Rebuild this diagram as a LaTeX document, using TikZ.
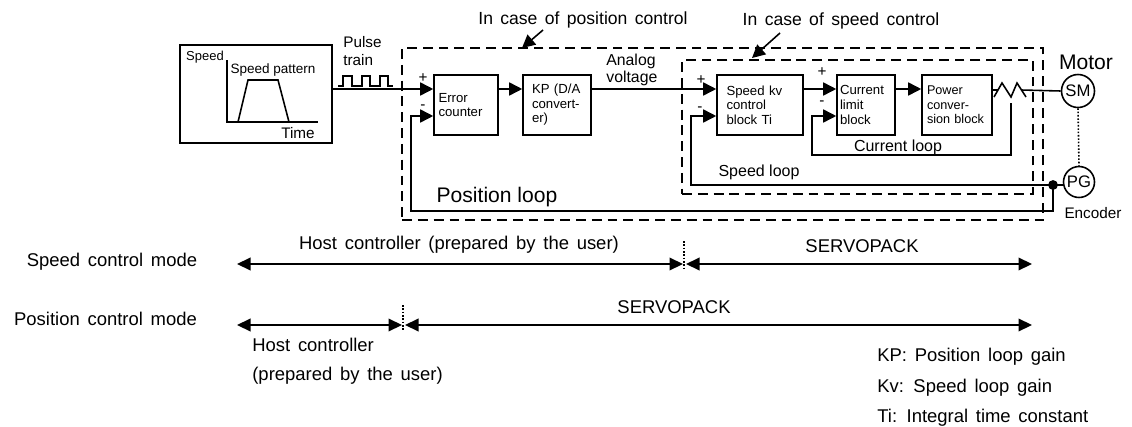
\documentclass[tikz,border=0pt]{standalone}
\usepackage{fontspec}
\setmainfont{Liberation Sans}
\usetikzlibrary{arrows.meta,calc}
\tikzset{
  flowarrow/.style={-{Triangle[length=2.6mm,width=2.6mm]}, line width=0.9pt},
  spanarrow/.style={{Triangle[length=2.7mm,width=2.5mm]}-{Triangle[length=2.7mm,width=2.5mm]}, line width=1.2pt},
  blockbox/.style={draw, line width=0.9pt, inner sep=0pt, align=left},
  framebox/.style={draw, line width=0.9pt, dash pattern=on 5.6pt off 3.4pt, inner sep=0pt},
  wire/.style={line width=0.9pt},
  motornode/.style={draw, circle, line width=0.9pt, inner sep=0pt, minimum size=0.66cm, font=\fontsize{9.5}{10}\selectfont},
  lab/.style={font=\fontsize{8.7}{10.2}\selectfont, inner sep=0pt},
  widelab/.style={font=\fontsize{10.5}{12}\selectfont, inner sep=0pt, execute at begin node={\spaceskip=0.42em\relax}},
  smalllab/.style={font=\fontsize{7.5}{8.3}\selectfont, inner sep=0pt, align=left},
  biglab/.style={font=\fontsize{12}{13}\selectfont, inner sep=0pt}
}
\begin{document}
\begin{tikzpicture}[x=0.02cm, y=-0.02cm]
  \useasboundingbox (0,0) rectangle (1132,426);
  % frames
  \node[framebox, minimum width=12.82cm, minimum height=3.44cm] (outer) at (722.5,134) {};
  \node[framebox, minimum width=7.02cm, minimum height=2.68cm] (inner) at (857.5,127) {};
  % pattern box
  \node[draw, line width=0.9pt, minimum width=3.04cm, minimum height=1.96cm, inner sep=0pt] (pattern) at (256,94) {};
  \draw[wire] (227,60) -- (227,122) -- (318,122);
  \draw[wire] (238,122) -- (248,80) -- (278,80) -- (289,122);
  \node[lab, font=\fontsize{7.4}{8}\selectfont] (speedlab) at (205,57) {Speed};
  \node[lab, font=\fontsize{7.7}{8}\selectfont] (patternlab) at (273,70) {Speed pattern};
  \node[lab] (timelab) at (298,133) {Time};
  \node[lab, align=left, anchor=north west] (pulselab) at (343,36) {Pulse\\train};
  \draw[wire] (338,86) -- (343,86) -- (343,76) -- (352,76) -- (352,86) -- (362,86) -- (362,76) -- (370,76) -- (370,86) -- (380,86) -- (380,76) -- (388,76) -- (388,86) -- (393,86);
  % blocks
  \node[blockbox, minimum width=1.28cm, minimum height=1.2cm, text width=1.1cm, smalllab] (error) at (466,105) {Error\\counter};
  \node[blockbox, minimum width=1.36cm, minimum height=1.2cm, text width=1.0cm, smalllab] (kp) at (557,105) {KP (D/A\\convert-\\er)};
  \node[blockbox, minimum width=1.72cm, minimum height=1.2cm, text width=1.34cm, smalllab] (speedblock) at (760,105) {Speed kv\\control\\block Ti};
  \node[blockbox, minimum width=1.16cm, minimum height=1.2cm, text width=1.04cm, smalllab] (current) at (866,105) {Current\\limit\\block};
  \node[blockbox, minimum width=1.4cm, minimum height=1.2cm, text width=1.2cm, smalllab, font=\fontsize{7.2}{8.3}\selectfont] (power) at (957,105) {Power\\conver-\\sion block\\[2pt]};
  \node[motornode] (sm) at (1078,91) {SM};
  \node[motornode, minimum size=0.62cm] (pg) at (1079,182) {PG};
  \fill (1053,185) circle (2.8pt) coordinate (junction);
  % arrows
  \draw[flowarrow] (pattern.east |- 0,89) -- (error.west |- 0,89);
  \draw[flowarrow] (error.east |- 0,89) -- (kp.west |- 0,89);
  \draw[flowarrow] (kp.east |- 0,89) -- (speedblock.west |- 0,89);
  \draw[flowarrow] (speedblock.east |- 0,89) -- (current.west |- 0,89);
  \draw[flowarrow] (current.east |- 0,89) -- (power.west |- 0,89);
  \draw[wire] (power.east |- 0,90) -- (998,90);
  \draw[wire] (994,97) -- (1002,83) -- (1011,97) -- (1017,83) -- (1026,97);
  \draw[wire] (1021,90) -- (sm.west);
  \draw[flowarrow] (1011,103) -- (1011,155) -- (812,155) -- (812,116) -- (current.west |- 0,116);
  \draw[flowarrow] (pg.west |- 0,185) -- (691,185) -- (691,116) -- (speedblock.west |- 0,116);
  \draw[flowarrow] (junction) -- (1053,211) -- (411,211) -- (411,116) -- (error.west |- 0,116);
  \draw[wire, densely dotted] (sm.south) -- (pg.north);
  % callouts
  \node[widelab, font=\fontsize{10}{12}\selectfont] (poslab) at (583,20) {In case of position control};
  \node[widelab, font=\fontsize{10}{12}\selectfont] (speedctl) at (841,21) {In case of speed control};
  \draw[flowarrow] (543,30) -- (522,48);
  \draw[flowarrow] (780,33) -- (752,58);
  % loop labels
  \node[biglab] (posloop) at (497,197) {Position loop};
  \node[lab, font=\fontsize{9.1}{10}\selectfont] (curloop) at (898,147) {Current loop};
  \node[lab, font=\fontsize{9.1}{10}\selectfont] (spdloop) at (759,172) {Speed loop};
  \node[lab, anchor=west, align=left, font=\fontsize{9}{9.8}\selectfont] (analog) at (606,70) {Analog\\voltage};
  \node[biglab] (motor) at (1086,62) {Motor};
  \node[lab] (encoder) at (1093,213) {Encoder};
  % signs
  \node[lab] (p1) at (423,78) {+};
  \node[lab] (m1) at (423,107) {-};
  \node[lab] (p2) at (701,80) {+};
  \node[lab] (m2) at (700,109) {-};
  \node[lab] (p3) at (822,72) {+};
  \node[lab] (m3) at (822,103) {-};
  % modes
  \node[widelab] (speedmode) at (112,262) {Speed control mode};
  \node[widelab] (posmode) at (105.5,319) {Position control mode};
  \coordinate (sa) at (237,264);
  \coordinate (sb) at (683,264);
  \coordinate (sb2) at (686,264);
  \coordinate (sc) at (1032,264);
  \coordinate (pa) at (237,325);
  \coordinate (pb) at (402,325);
  \coordinate (pb2) at (405,325);
  \coordinate (pc) at (1032,325);
  \draw[spanarrow] (sa) -- (sb);
  \draw[spanarrow] (sb2) -- (sc);
  \draw[spanarrow] (pa) -- (pb);
  \draw[spanarrow] (pb2) -- (pc);
  \draw[wire, densely dotted] (684,241) -- (684,270);
  \draw[wire, densely dotted] (403,305) -- (403,331);
  \node[widelab] (hosttop) at (459,245) {Host controller (prepared by the user)};
  \node[widelab] (servotop) at (862,246) {SERVOPACK};
  \node[widelab] (servobot) at (674,307) {SERVOPACK};
  \node[widelab, anchor=west] (hostbot) at (252,345) {Host controller};
  \node[widelab, anchor=west] (hostbot2) at (252,376) {(prepared by the user)};
  \node[widelab, anchor=west] (keykp) at (877,357) {KP: Position loop gain};
  \node[widelab, anchor=west] (keykv) at (877,388) {Kv: Speed loop gain};
  \node[widelab, anchor=west] (keyti) at (877,418) {Ti: Integral time constant};
\end{tikzpicture}
\end{document}
